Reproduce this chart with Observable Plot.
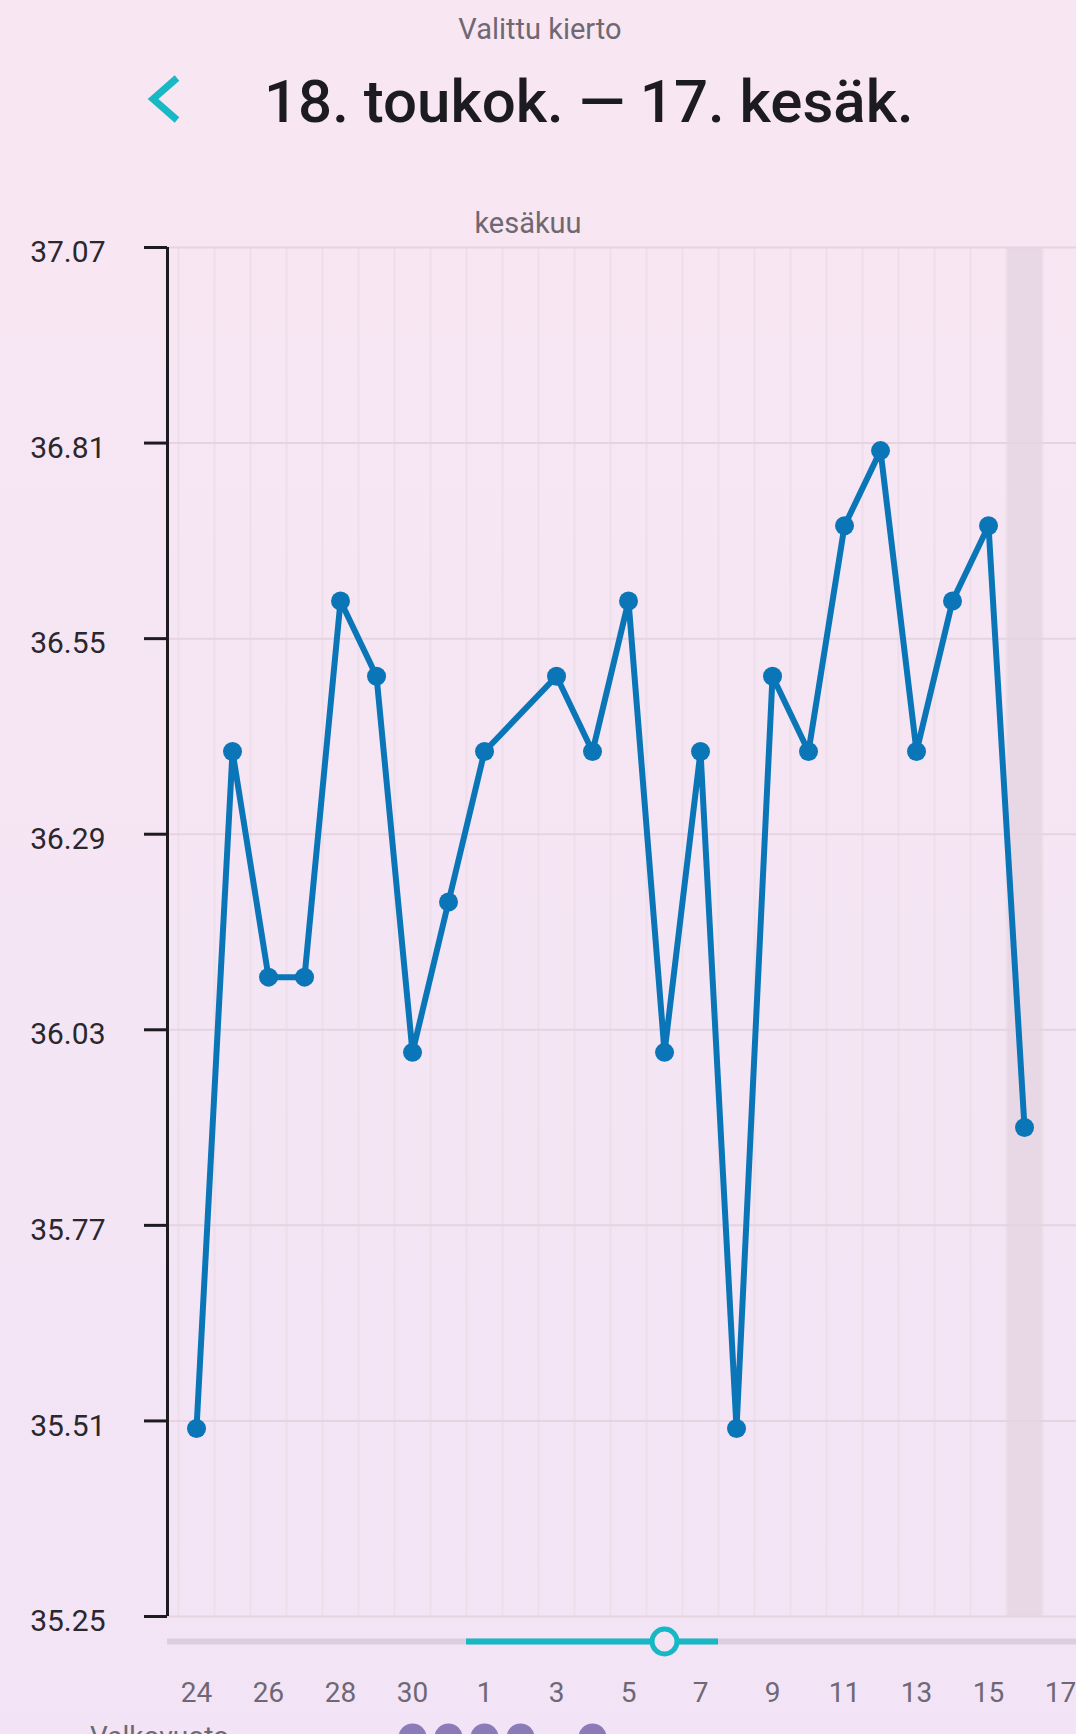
<!DOCTYPE html>
<html>
<head>
<meta charset="utf-8">
<script src="https://cdn.jsdelivr.net/npm/d3@7"></script>
<script src="https://cdn.jsdelivr.net/npm/@observablehq/plot@0.6"></script>
<style>
  html, body { margin: 0; padding: 0; overflow: hidden; }
  body { font-family: Roboto, "Noto Sans", sans-serif; }
  #page { position: relative; width: 1076px; height: 1734px; overflow: hidden;
          background: linear-gradient(#f8e7f2, #f2e4f6); }
  .abs { position: absolute; line-height: 1; white-space: nowrap; }
  #sub { left: 0; width: 1080px; text-align: center; top: 15px; font-size: 29px; color: #6f6872; }
  #title { left: 264px; width: 600px; text-align: center; top: 72px; font-size: 60px; font-weight: 500; color: #1c1b1f; }
  #month { left: 378px; width: 300px; text-align: center; top: 209px; font-size: 29px; color: #6f6872; }
  #spotLabel { left: 90px; top: 1723px; font-size: 28px; color: #6f6872; }
  #chevron { position: absolute; left: 140px; top: 70px; }
  #chart { position: absolute; left: 0; top: 196px; }
</style>
</head>
<body>
<div id="page">
  <div id="chart"></div>
  <div id="sub" class="abs">Valittu kierto</div>
  <svg id="chevron" width="50" height="60" viewBox="140 70 50 60">
    <polyline points="177,78 153,99 177,120" fill="none" stroke="#19b8c5" stroke-width="7" stroke-linecap="butt" stroke-linejoin="miter"/>
  </svg>
  <div id="title" class="abs">18. toukok. — 17. kesäk.</div>
  <div id="month" class="abs">kesäkuu</div>
  <div id="spotLabel" class="abs">Valkovuoto</div>
</div>
<script>
// Day labels (24 May – 17 June)
const days = ["24","25","26","27","28","29","30","31","1","2","3","4","5","6","7","8","9","10","11","12","13","14","15","16","17"];
// Basal temperature per day (null = no measurement)
const temps = [35.50, 36.40, 36.10, 36.10, 36.60, 36.50, 36.00, 36.20, 36.40, null, 36.50, 36.40, 36.60, 36.00, 36.40, 35.50, 36.50, 36.40, 36.70, 36.80, 36.40, 36.60, 36.70, 35.90, null];
// Y tick values
const yTicks = [35.25, 35.51, 35.77, 36.03, 36.29, 36.55, 36.81, 37.07];
// X tick labels shown (every second day)
const xTickDays = ["24","26","28","30","1","3","5","7","9","11","13","15","17"];
// Highlighted (today) day
const highlightDay = "16";
// Fertile window and ovulation marker
const fertileStart = "1";
const fertileEnd = "7";
const ovulationDay = "6";
// Days with discharge markers
const spotDays = ["30","31","1","2","4"];
// Visible scroll window, in day-index units
const viewStart = -0.806;
const viewEnd = 24.444;

const idx = d => days.indexOf(d);
const points = days.map((d, i) => ({i, day: d, t: temps[i]})).filter(p => p.t != null);
const yMin = yTicks[0], yMax = yTicks[yTicks.length - 1];

const blue = "#0a76b8";
const teal = "#17b8c5";
const purple = "#8b7cb9";
const dark = "#1d1b20";
const gray = "#6f6872";

const chart = Plot.plot({
  width: 1076,
  height: 1538,
  marginTop: 51,
  marginBottom: 118,
  marginLeft: 167,
  marginRight: 0,
  style: {background: "transparent", fontFamily: "Roboto, sans-serif"},
  x: {domain: [viewStart, viewEnd], label: null},
  y: {domain: [yMin, yMax], label: null},
  marks: [
    Plot.rect([highlightDay], {x1: d => idx(d) - 0.5, x2: d => idx(d) + 0.5, y1: () => yMin, y2: () => yMax, fill: "#e8d8e5"}),
    Plot.ruleX(d3.range(-0.5, days.length, 1), {y1: () => yMin, y2: () => yMax, stroke: "#eddeea", strokeWidth: 2}),
    Plot.ruleY(yTicks, {stroke: "#e5d3e0", strokeWidth: 2}),
    Plot.ruleX([viewStart], {y1: () => yMin, y2: () => yMax, stroke: dark, strokeWidth: 3}),
    Plot.axisY({ticks: yTicks, tickSize: 23, tickFormat: () => "", stroke: dark, strokeWidth: 3, label: null}),
    Plot.axisY({ticks: yTicks, tickSize: 0, tickPadding: 62, tickFormat: d => d.toFixed(2), fontSize: 30, fill: "#2a272d", dy: 5, label: null}),
    Plot.ruleY([yMin], {dy: 25, stroke: "#dccde0", strokeWidth: 6}),
    Plot.ruleY([yMin], {x1: () => idx(fertileStart) - 0.5, x2: () => idx(fertileEnd) + 0.5, dy: 25, stroke: teal, strokeWidth: 6}),
    Plot.dot([ovulationDay], {x: d => idx(d), y: () => yMin, dy: 25, r: 12.5, stroke: teal, strokeWidth: 5, fill: "#f3e4f5"}),
    Plot.axisX({ticks: xTickDays.map(idx), tickFormat: i => days[i], tickSize: 0, tickPadding: 66, fontSize: 28, fill: gray, label: null}),
    Plot.line(points, {x: "i", y: "t", stroke: blue, strokeWidth: 6}),
    Plot.dot(points, {x: "i", y: "t", r: 9.5, fill: blue}),
    Plot.dot(spotDays, {x: d => idx(d), y: () => yMin, dy: 121, r: 14, fill: purple})
  ]
});
document.getElementById("chart").appendChild(chart);
</script>
</body>
</html>
